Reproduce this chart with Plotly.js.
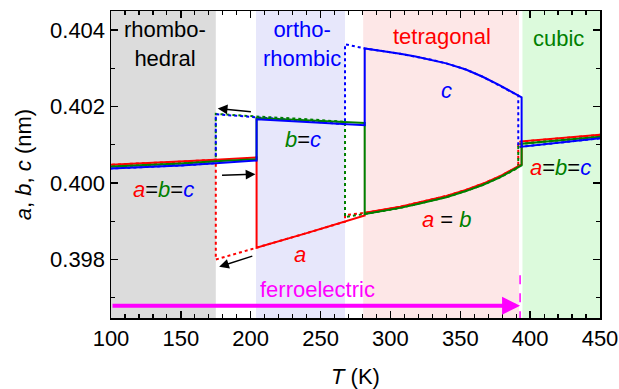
<!DOCTYPE html>
<html>
<head>
<meta charset="utf-8">
<script src="https://cdn.plot.ly/plotly-3.0.1.min.js"></script>
<style>
  html, body { margin: 0; padding: 0; background: #fff; }
  #chart { width: 619px; height: 389px; }
</style>
</head>
<body>
<div id="chart"></div>
<script>
// Lattice parameters (nm) vs temperature (K).
// Heating run (solid lines); repeated T values mark the phase-transition jumps.
const tHeat = [100, 150, 175, 204.2, 204.2, 240, 281.6, 281.6, 295, 307, 318, 330, 340, 354, 366, 378, 386, 393.9, 393.9, 420, 450];
const aHeat = [0.40048, 0.40056, 0.40061, 0.40067, 0.39831, 0.39869, 0.39915, 0.39922, 0.39930, 0.39938, 0.39947, 0.39957, 0.39966, 0.39982, 0.39998, 0.40017, 0.40032, 0.40049, 0.40109, 0.40117, 0.40126];
const bHeat = [0.40043, 0.40051, 0.40057, 0.40062, 0.40170, 0.40164, 0.40157, 0.39919, 0.39927, 0.39935, 0.39944, 0.39954, 0.39963, 0.39979, 0.39995, 0.40014, 0.40029, 0.40046, 0.40103, 0.40112, 0.40121];
const cHeat = [0.40038, 0.40046, 0.40052, 0.40059, 0.40167, 0.40160, 0.40151, 0.40352, 0.40345, 0.40338, 0.40331, 0.40322, 0.40313, 0.40297, 0.40278, 0.40256, 0.40240, 0.40224, 0.40095, 0.40105, 0.40117];

// Cooling run (dotted lines).
const tCool = [450, 420, 391.5, 391.5, 386, 378, 366, 354, 340, 330, 318, 307, 295, 281.6, 267.5, 267.5, 240, 204.2, 175, 175, 150, 100];
const aCool = [0.40126, 0.40117, 0.40108, 0.40043, 0.40032, 0.40017, 0.39998, 0.39982, 0.39966, 0.39957, 0.39947, 0.39938, 0.39930, 0.39922, 0.39916, 0.39899, 0.39869, 0.39831, 0.39800, 0.40061, 0.40056, 0.40048];
const bCool = [0.40121, 0.40112, 0.40102, 0.40040, 0.40029, 0.40014, 0.39995, 0.39979, 0.39963, 0.39954, 0.39944, 0.39935, 0.39927, 0.39919, 0.39911, 0.40160, 0.40167, 0.40174, 0.40181, 0.40057, 0.40051, 0.40043];
const cCool = [0.40117, 0.40105, 0.40094, 0.40229, 0.40240, 0.40256, 0.40278, 0.40297, 0.40313, 0.40322, 0.40331, 0.40338, 0.40345, 0.40352, 0.40363, 0.40154, 0.40162, 0.40171, 0.40180, 0.40052, 0.40046, 0.40038];

// Phase fields (shaded bands) and their labels.
const phaseNames = ['rhombo-<br>hedral', 'ortho-<br>rhombic', 'tetragonal', 'cubic'];
const phaseFrom  = [100, 203.8, 280.5, 394.5];
const phaseTo    = [175, 267.5, 392, 450];

// Ferroelectric range: from the low-T end up to the Curie point.
const ferroFrom = 100;
const ferroTo = 392.8;

const RED = '#ff0000', GREEN = '#008000', BLUE = '#0000ff', MAGENTA = '#ff00ff';
const FONT = 'Liberation Sans, Arial, sans-serif';

const phaseFill  = ['#dcdcdc', '#e7e7fb', '#fde7e7', '#dcfadc'];
const phaseColor = ['#000000', BLUE, RED, GREEN];
const phaseLabelY = [0.40365, 0.40365, 0.40384, 0.40379];
const phaseLabelX = [138.7, 236.6, 336.6, 420];

function line(x, y, color, dash) {
  return { x: x, y: y, type: 'scatter', mode: 'lines', hoverinfo: 'skip', showlegend: false,
           line: { color: color, width: 2, dash: dash } };
}

const traces = [
  line(tCool, aCool, RED, 'dot'),
  line(tCool, bCool, GREEN, 'dot'),
  line(tCool, cCool, BLUE, 'dot'),
  line(tHeat, aHeat, RED, 'solid'),
  line(tHeat, bHeat, GREEN, 'solid'),
  line(tHeat, cHeat, BLUE, 'solid')
];

const shapes = phaseFrom.map((x0, i) => ({
  type: 'rect', xref: 'x', yref: 'paper', x0: x0, x1: phaseTo[i], y0: 0, y1: 1,
  fillcolor: phaseFill[i], line: { width: 0 }, layer: 'below'
}));
// dashed marker at the Curie point
shapes.push({ type: 'line', xref: 'x', yref: 'y', x0: ferroTo, x1: ferroTo, y0: 0.39759, y1: 0.39647,
              line: { color: MAGENTA, width: 1.5, dash: 'dash' } });

const col = (c, t) => '<span style="color:' + c + '">' + t + '</span>';
const it = t => '<i>' + t + '</i>';

function label(x, y, text, color) {
  return { x: x, y: y, xref: 'x', yref: 'y', text: text, showarrow: false,
           font: { family: FONT, size: 22, color: color || '#000' }, xanchor: 'center', yanchor: 'middle' };
}
function arrow(x0, y0, x1, y1) {
  return { x: x1, y: y1, ax: x0, ay: y0, xref: 'x', yref: 'y', axref: 'x', ayref: 'y', text: '',
           showarrow: true, arrowhead: 2, arrowsize: 1.3, arrowwidth: 1.5, arrowcolor: '#000', standoff: 0 };
}

const annotations = phaseNames.map((n, i) => label(phaseLabelX[i], phaseLabelY[i], n, phaseColor[i]));
annotations.push(
  label(237.6, 0.40114, col(GREEN, it('b')) + '=' + col(BLUE, it('c'))),
  label(340.3, 0.40243, col(BLUE, it('c'))),
  label(137.4, 0.39983, col(RED, it('a')) + '=' + col(GREEN, it('b')) + '=' + col(BLUE, it('c'))),
  label(421.4, 0.40041, col(RED, it('a')) + '=' + col(GREEN, it('b')) + '=' + col(BLUE, it('c'))),
  label(235.3, 0.39813, col(RED, it('a'))),
  label(340.3, 0.39905, col(RED, it('a')) + ' = ' + col(GREEN, it('b'))),
  label(247.5, 0.39722, 'ferroelectric', MAGENTA),
  arrow(201.2, 0.40186, 176.4, 0.40195),
  arrow(178.4, 0.40020, 203.4, 0.40023),
  arrow(202.2, 0.39810, 177.4, 0.39781),
  { x: ferroTo, y: 0.39679, ax: ferroFrom, ay: 0.39679, xref: 'x', yref: 'y', axref: 'x', ayref: 'y',
    text: '', showarrow: true, arrowhead: 2, arrowsize: 0.9, arrowwidth: 4, arrowcolor: MAGENTA, standoff: 0 }
);

const axisCommon = {
  showline: true, linecolor: '#000', linewidth: 1.5, mirror: 'ticks',
  ticks: 'inside', ticklen: 7, tickwidth: 1.5, tickcolor: '#000',
  showgrid: false, zeroline: false,
  tickfont: { family: FONT, size: 22, color: '#000' }
};

const layout = {
  width: 619, height: 389,
  margin: { l: 111, r: 19, t: 11, b: 71 },
  paper_bgcolor: '#fff', plot_bgcolor: '#fff',
  font: { family: FONT, size: 22, color: '#000' },
  xaxis: Object.assign({}, axisCommon, {
    range: [100, 450], dtick: 50, tick0: 100,
    minor: { ticks: 'inside', ticklen: 4, dtick: 10, tickwidth: 1.2, tickcolor: '#000' },
    title: { text: it('T') + ' (K)', font: { family: FONT, size: 22 }, standoff: 19 }
  }),
  yaxis: Object.assign({}, axisCommon, {
    range: [0.39647, 0.4045], dtick: 0.002, tick0: 0.398, tickformat: '.3f',
    minor: { ticks: 'inside', ticklen: 4, dtick: 0.001, tickwidth: 1.2, tickcolor: '#000' },
    title: { text: it('a') + ', ' + it('b') + ', ' + it('c') + ' (nm)', font: { family: FONT, size: 22 }, standoff: 12 }
  }),
  shapes: shapes,
  annotations: annotations
};

Plotly.newPlot('chart', traces, layout, { staticPlot: true, displayModeBar: false });
</script>
</body>
</html>
